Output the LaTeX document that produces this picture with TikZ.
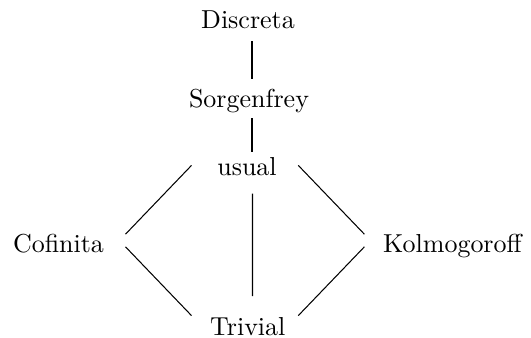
\documentclass[tikz,border=0pt]{standalone}
\usetikzlibrary{calc}
\begin{document}
\begin{tikzpicture}[x=0.385pt,y=-0.385pt,
  lbl/.style={anchor=base,inner sep=0pt,font=\fontsize{10}{12}\selectfont},
  edge/.style={line width=0.4pt}]
\useasboundingbox (0,0) rectangle (531,337);
\node[lbl] (d) at (248,28) {Discreta};
\node[lbl] (s) at (249,107) {Sorgenfrey};
\node[lbl] (u) at (247,175.6) {usual};
\node[lbl] (c) at (58.5,252) {Cofinita};
\node[lbl] (k) at (452.5,252) {Kolmogoroff};
\node[lbl] (t) at (247.8,335) {Trivial};
\draw[edge] ($(d.base)+(4,13)$) -- ($(s.base)+(3,-28)$);
\draw[edge] ($(s.base)+(3,11)$) -- ($(u.base)+(5,-23.6)$);
\draw[edge] ($(u.base)+(5.5,18)$) -- ($(t.base)+(4.7,-39)$);
\draw[edge] ($(u.base)+(-55.5,-10.2)$) -- ($(c.base)+(67,-17.8)$);
\draw[edge] ($(c.base)+(67,-5.2)$) -- ($(t.base)+(-56.3,-19.4)$);
\draw[edge] ($(u.base)+(51.3,-10.2)$) -- ($(k.base)+(-88.1,-17.8)$);
\draw[edge] ($(k.base)+(-88.1,-5.2)$) -- ($(t.base)+(50.5,-19.4)$);
\end{tikzpicture}
\end{document}
